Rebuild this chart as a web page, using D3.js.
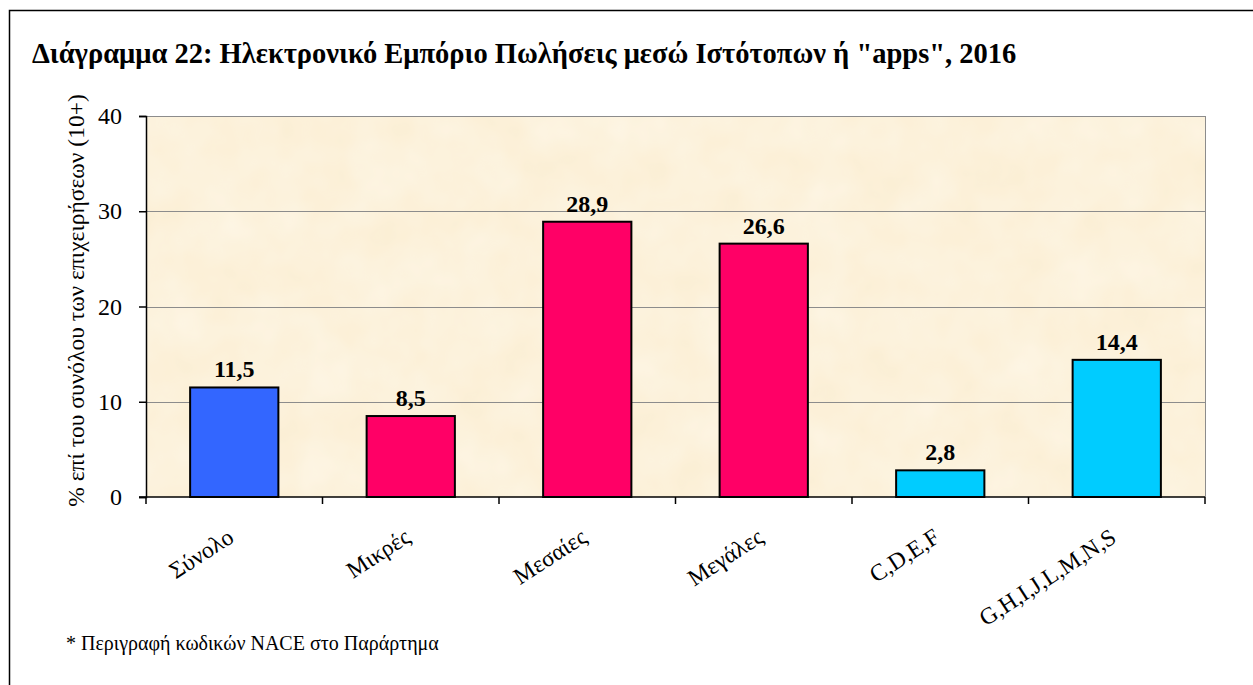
<!DOCTYPE html>
<html>
<head>
<meta charset="utf-8">
<script src="https://cdn.jsdelivr.net/npm/d3@7"></script>
<style>
  html, body { margin: 0; padding: 0; background: #fff; }
  text { font-family: "Liberation Serif", "Times New Roman", serif; fill: #000; }
</style>
</head>
<body>
<div id="chart"></div>
<script>
// chart data
const categories = ['Σύνολο', 'Μικρές', 'Μεσαίες', 'Μεγάλες', 'C,D,E,F', 'G,H,I,J,L,M,N,S'];
const values = [11.5, 8.5, 28.9, 26.6, 2.8, 14.4];
const barColors = ['#3366ff', '#ff0066', '#ff0066', '#ff0066', '#00ccff', '#00ccff'];
const yTicks = [0, 10, 20, 30, 40];

const width = 1253;
const height = 685;

// plot area
const plot = { left: 146, top: 116, right: 1205, bottom: 497 };

const svg = d3
  .select('#chart')
  .append('svg')
  .attr('width', width)
  .attr('height', height);

// parchment-ish texture for the plot background
const defs = svg.append('defs');
const filter = defs.append('filter').attr('id', 'paper').attr('x', 0).attr('y', 0).attr('width', 1).attr('height', 1);
filter.append('feTurbulence').attr('type', 'fractalNoise').attr('baseFrequency', 0.02).attr('numOctaves', 3).attr('seed', 7).attr('result', 'noise');
filter
  .append('feColorMatrix')
  .attr('in', 'noise')
  .attr('type', 'matrix')
  .attr('values', '0 0 0 0 1  0 0 0 0 0.97  0 0 0 0 0.90  0 0 0 0.6 -0.05')
  .attr('result', 'tint');
filter.append('feComposite').attr('in', 'tint').attr('in2', 'SourceGraphic').attr('operator', 'in');

// outer frame (only top and left are visible in the picture)
svg
  .append('rect')
  .attr('x', 9.5)
  .attr('y', 10.5)
  .attr('width', 1260)
  .attr('height', 700)
  .attr('fill', 'none')
  .attr('stroke', '#000')
  .attr('stroke-width', 1.5);

// scales
const x = d3.scaleBand().domain(categories).range([plot.left, plot.right]).padding(0);
const y = d3.scaleLinear().domain([0, 40]).range([plot.bottom, plot.top]);

// plot background
svg
  .append('rect')
  .attr('x', plot.left)
  .attr('y', plot.top)
  .attr('width', plot.right - plot.left)
  .attr('height', plot.bottom - plot.top)
  .attr('fill', '#fbeed3');
svg
  .append('rect')
  .attr('x', plot.left)
  .attr('y', plot.top)
  .attr('width', plot.right - plot.left)
  .attr('height', plot.bottom - plot.top)
  .attr('fill', '#fff')
  .attr('filter', 'url(#paper)');

// gridlines (the 40 line is the top border of the plot)
svg
  .append('g')
  .selectAll('line')
  .data(yTicks.filter((d) => d > 0))
  .join('line')
  .attr('x1', plot.left)
  .attr('x2', plot.right)
  .attr('y1', (d) => Math.round(y(d)) + 0.5)
  .attr('y2', (d) => Math.round(y(d)) + 0.5)
  .attr('stroke', '#8c8c8c')
  .attr('stroke-width', 1);

// right border of plot
svg
  .append('line')
  .attr('x1', plot.right + 0.5)
  .attr('x2', plot.right + 0.5)
  .attr('y1', plot.top)
  .attr('y2', plot.bottom)
  .attr('stroke', '#8c8c8c');

// bars
svg
  .append('g')
  .selectAll('rect')
  .data(values)
  .join('rect')
  .attr('x', (d, i) => x(categories[i]) + x.bandwidth() * 0.25)
  .attr('width', x.bandwidth() * 0.5)
  .attr('y', (d) => y(d))
  .attr('height', (d) => y(0) - y(d))
  .attr('fill', (d, i) => barColors[i])
  .attr('stroke', '#000')
  .attr('stroke-width', 2);

// data labels
svg
  .append('g')
  .selectAll('text')
  .data(values)
  .join('text')
  .attr('x', (d, i) => x(categories[i]) + x.bandwidth() / 2)
  .attr('y', (d) => y(d) - 10)
  .attr('text-anchor', 'middle')
  .attr('font-size', 24)
  .attr('font-weight', 'bold')
  .text((d) => String(d).replace('.', ','));

// y axis
const yAxis = svg
  .append('g')
  .attr('transform', `translate(${plot.left},0)`)
  .call(d3.axisLeft(y).tickValues(yTicks).tickSize(7).tickPadding(17));
yAxis.select('.domain').attr('stroke', '#000').attr('stroke-width', 1.5);
yAxis.selectAll('.tick line').attr('stroke', '#000').attr('stroke-width', 1.5);
yAxis
  .selectAll('.tick text')
  .attr('font-family', '"Liberation Serif", serif')
  .attr('font-size', 24)
  .attr('fill', '#000');

// x axis with tick marks at category boundaries
const xAxis = svg.append('g');
xAxis
  .append('line')
  .attr('x1', plot.left - 7)
  .attr('x2', plot.right)
  .attr('y1', plot.bottom)
  .attr('y2', plot.bottom)
  .attr('stroke', '#000')
  .attr('stroke-width', 1.5);
xAxis
  .selectAll('.xtick')
  .data(categories.concat(['end']))
  .join('line')
  .attr('class', 'xtick')
  .attr('x1', (d, i) => plot.left + i * x.bandwidth())
  .attr('x2', (d, i) => plot.left + i * x.bandwidth())
  .attr('y1', plot.bottom)
  .attr('y2', plot.bottom + 7)
  .attr('stroke', '#000')
  .attr('stroke-width', 1.5);

// rotated category labels
xAxis
  .selectAll('.xlabel')
  .data(categories)
  .join('text')
  .attr('class', 'xlabel')
  .attr('text-anchor', 'end')
  .attr('font-size', 23.5)
  .attr('transform', (d) => `translate(${x(d) + x.bandwidth() / 2 + 1},${plot.bottom + 44}) rotate(-33)`)
  .text((d) => d);

// y axis title
svg
  .append('text')
  .attr('transform', `translate(84,${(plot.top + plot.bottom) / 2 - 6}) rotate(-90)`)
  .attr('text-anchor', 'middle')
  .attr('font-size', 23.5)
  .text('% επί του συνόλου των επιχειρήσεων (10+)');

// chart title
svg
  .append('text')
  .attr('x', 32)
  .attr('y', 63)
  .attr('font-size', 28.5)
  .attr('font-weight', 'bold')
  .text('Διάγραμμα 22: Ηλεκτρονικό Εμπόριο Πωλήσεις μεσώ Ιστότοπων ή "apps", 2016');

// footnote
svg
  .append('text')
  .attr('x', 66)
  .attr('y', 650)
  .attr('font-size', 20)
  .text('* Περιγραφή κωδικών NACE στο Παράρτημα');
</script>
</body>
</html>
